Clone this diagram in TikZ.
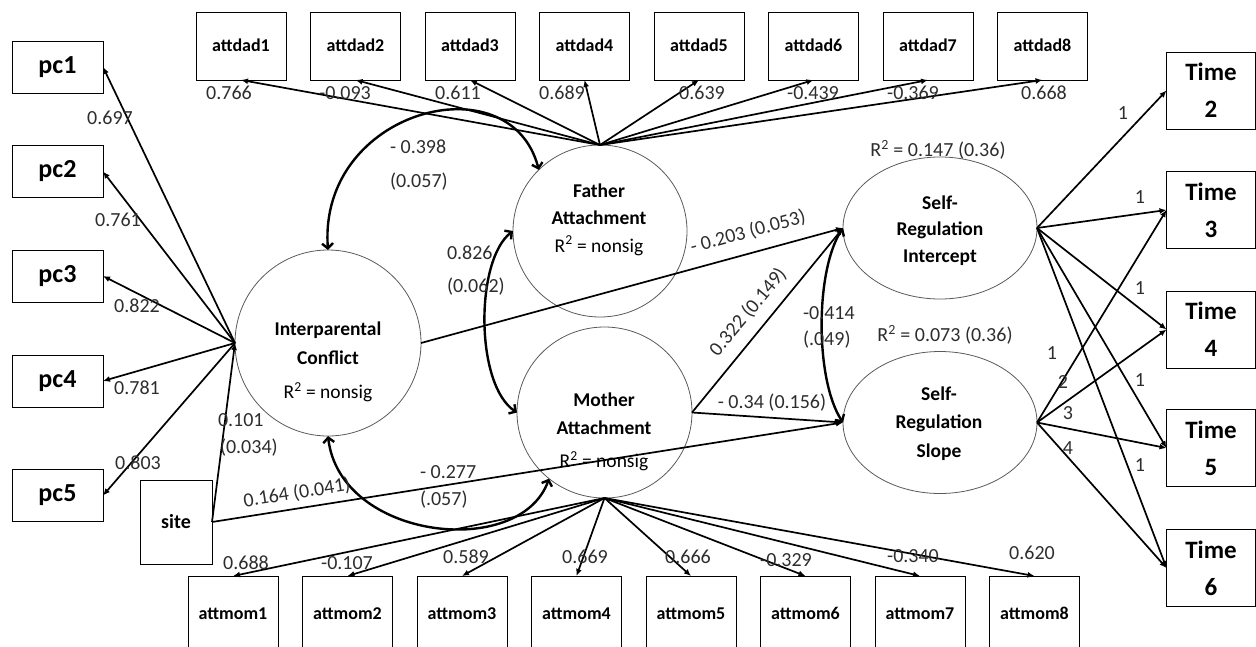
\documentclass[tikz,border=0pt]{standalone}
\usepackage{fontspec}
\setmainfont{Carlito}
\usetikzlibrary{arrows.meta,shapes.geometric}
\definecolor{semInk}{RGB}{0,0,0}
\definecolor{semNum}{RGB}{45,45,45}
\definecolor{semRim}{RGB}{90,90,90}

\begin{document}
\begin{tikzpicture}[x=1pt,y=-1pt,inner sep=0pt,outer sep=0pt,
  obsbox/.style={draw=semInk,line width=0.9pt,minimum width=91pt,minimum height=52pt,font=\bfseries\fontsize{26}{30}\selectfont},
  itembox/.style={draw=semInk,line width=0.9pt,minimum width=90pt,minimum height=68pt,text height=12pt,text depth=1pt,font=\bfseries\fontsize{18}{20}\selectfont},
  timebox/.style={draw=semInk,line width=0.9pt,minimum width=89pt,minimum height=77pt,align=center,font=\bfseries\fontsize{25}{37}\selectfont},
  latent/.style={ellipse,draw=semRim,line width=0.8pt},
  ltext/.style={align=center,text=semInk,font=\fontsize{19.5}{27.5}\selectfont},
  coef/.style={text=semNum,font=\fontsize{20}{24}\selectfont},
  loadarrow/.style={-{Latex[length=7pt,width=6pt]},line width=1.7pt},
  covarrow/.style={{Straight Barb[length=5pt,width=11pt]}-{Straight Barb[length=5pt,width=11pt]},line width=2.4pt},
]
\useasboundingbox (0,0) rectangle (1256,646);

% indicators of interparental conflict
\node[obsbox] (pc1) at (57.5,67) {pc1};
\node[obsbox] (pc2) at (57.5,171.5) {pc2};
\node[obsbox] (pc3) at (57.5,276) {pc3};
\node[obsbox] (pc4) at (57.5,381) {pc4};
\node[obsbox] (pc5) at (57.5,495.5) {pc5};
\node[draw=semInk,line width=0.9pt,minimum width=72pt,minimum height=84pt,font=\bfseries\fontsize{20}{24}\selectfont] (site) at (176,522) {site};

% father items
\node[itembox] (attdad1) at (241,46) {attdad1};
\node[itembox] (attdad2) at (355.5,46) {attdad2};
\node[itembox] (attdad3) at (470,46) {attdad3};
\node[itembox] (attdad4) at (584.5,46) {attdad4};
\node[itembox] (attdad5) at (699,46) {attdad5};
\node[itembox] (attdad6) at (813.5,46) {attdad6};
\node[itembox] (attdad7) at (928,46) {attdad7};
\node[itembox] (attdad8) at (1042.5,46) {attdad8};

% mother items
\node[itembox,minimum height=76pt] (attmom1) at (233,614) {attmom1};
\node[itembox,minimum height=76pt] (attmom2) at (347.5,614) {attmom2};
\node[itembox,minimum height=76pt] (attmom3) at (462,614) {attmom3};
\node[itembox,minimum height=76pt] (attmom4) at (576.5,614) {attmom4};
\node[itembox,minimum height=76pt] (attmom5) at (691,614) {attmom5};
\node[itembox,minimum height=76pt] (attmom6) at (805.5,614) {attmom6};
\node[itembox,minimum height=76pt] (attmom7) at (920,614) {attmom7};
\node[itembox,minimum height=76pt] (attmom8) at (1034.5,614) {attmom8};

% waves
\node[timebox] (time2) at (1211,90.5) {Time\\2};
\node[timebox] (time3) at (1211,210) {Time\\3};
\node[timebox] (time4) at (1211,329.5) {Time\\4};
\node[timebox] (time5) at (1211,448) {Time\\5};
\node[timebox] (time6) at (1211,568) {Time\\6};

% latent variables
\node[latent,minimum width=186pt,minimum height=186pt] (ipc) at (328,343) {};
\node[latent,minimum width=174pt,minimum height=172pt] (fat) at (600,231) {};
\node[latent,minimum width=175pt,minimum height=171pt] (mot) at (604.5,412.5) {};
\node[latent,minimum width=194pt,minimum height=142pt] (sri) at (940,228) {};
\node[latent,minimum width=194pt,minimum height=142pt] (srs) at (940,422.5) {};
\node[ltext] (ipc-t) at (328,362) {\textbf{Interparental}\\[1pt]\textbf{Conflict}\\[7pt]R\textsuperscript{2} = nonsig};
\node[ltext] (fat-t) at (599,219.5) {\textbf{Father}\\\textbf{Attachment}\\R\textsuperscript{2} = nonsig};
\node[ltext] (mot-t) at (604,432) {\textbf{Mother}\\\textbf{Attachment}\\[6pt]R\textsuperscript{2} = nonsig};
\node[ltext] (sri-t) at (940,230.5) {\textbf{Self-}\\[-1pt]\textbf{Regulation}\\[-1pt]\textbf{Intercept}};
\node[ltext] (srs-t) at (939,423.5) {\textbf{Self-}\\[1pt]\textbf{Regulation}\\[1pt]\textbf{Slope}};
\node[coef] (sri-r) at (938,150) {R\textsuperscript{2} = 0.147 (0.36)};
\node[coef] (srs-r) at (945,335) {R\textsuperscript{2} = 0.073 (0.36)};

% loadings
\draw[loadarrow] (ipc.west) -- (pc1.east);
\draw[loadarrow] (ipc.west) -- (pc2.east);
\draw[loadarrow] (ipc.west) -- (pc3.east);
\draw[loadarrow] (ipc.west) -- (pc4.east);
\draw[loadarrow] (ipc.west) -- (pc5.east);
\draw[loadarrow] (fat.north) -- (attdad1.south);
\draw[loadarrow] (fat.north) -- (attdad2.south);
\draw[loadarrow] (fat.north) -- (attdad3.south);
\draw[loadarrow] (fat.north) -- (attdad4.south);
\draw[loadarrow] (fat.north) -- (attdad5.south);
\draw[loadarrow] (fat.north) -- (attdad6.south);
\draw[loadarrow] (fat.north) -- (attdad7.south);
\draw[loadarrow] (fat.north) -- (attdad8.south);
\draw[loadarrow] (mot.south) -- (attmom1.north);
\draw[loadarrow] (mot.south) -- (attmom2.north);
\draw[loadarrow] (mot.south) -- (attmom3.north);
\draw[loadarrow] (mot.south) -- (attmom4.north);
\draw[loadarrow] (mot.south) -- (attmom5.north);
\draw[loadarrow] (mot.south) -- (attmom6.north);
\draw[loadarrow] (mot.south) -- (attmom7.north);
\draw[loadarrow] (mot.south) -- (attmom8.north);
\draw[loadarrow] (sri.east) -- (time2.west);
\draw[loadarrow] (sri.east) -- (time3.west);
\draw[loadarrow] (sri.east) -- (time4.west);
\draw[loadarrow] (sri.east) -- (time5.west);
\draw[loadarrow] (sri.east) -- (time6.west);
\draw[loadarrow] (srs.east) -- (time3.west);
\draw[loadarrow] (srs.east) -- (time4.west);
\draw[loadarrow] (srs.east) -- (time5.west);
\draw[loadarrow] (srs.east) -- (time6.west);

% structural paths
\draw[loadarrow] (site.east) -- (ipc.west);
\draw[loadarrow] (site.east) -- (srs.west);
\draw[loadarrow] (ipc.east) -- (sri.west);
\draw[loadarrow] (mot.east) -- (sri.west);
\draw[loadarrow] (mot.east) -- (srs.west);
\draw[covarrow] (ipc.north) .. controls (318,110) and (510,60) .. (fat.135);
\draw[covarrow] (ipc.south) .. controls (340,540) and (520,560) .. (mot.230);
\draw[covarrow] (fat.west) .. controls (475,260) and (475,385) .. (mot.west);
\draw[covarrow] (sri.west) .. controls (815,270) and (815,380) .. (srs.west);

% coefficients
\node[coef] (c-pc1) at (110,118) {0.697};
\node[coef] (c-pc2) at (118,220) {0.761};
\node[coef] (c-pc3) at (137,306) {0.822};
\node[coef] (c-pc4) at (137,388) {0.781};
\node[coef] (c-pc5) at (138,463) {0.803};
\node[coef] (c-d1) at (229,93) {0.766};
\node[coef] (c-d2) at (345,93) {-0.093};
\node[coef] (c-d3) at (458,93) {0.611};
\node[coef] (c-d4) at (562,93) {0.689};
\node[coef] (c-d5) at (702,93) {0.639};
\node[coef] (c-d6) at (813,93) {-0.439};
\node[coef] (c-d7) at (913,93) {-0.369};
\node[coef] (c-d8) at (1044,93) {0.668};
\node[coef] (c-m1) at (246,563) {0.688};
\node[coef] (c-m2) at (347,563) {-0.107};
\node[coef] (c-m3) at (466,557) {0.589};
\node[coef] (c-m4) at (585,557) {0.669};
\node[coef] (c-m5) at (688,557) {0.666};
\node[coef] (c-m6) at (786,560) {-0.329};
\node[coef] (c-m7) at (913,556) {-0.340};
\node[coef] (c-m8) at (1032,553) {0.620};
\node[coef,anchor=west] (c-site1) at (218,420) {0.101};
\node[coef,anchor=west] (c-site1se) at (220,448) {(0.034)};
\node[coef,rotate=9] (c-site2) at (297,493) {0.164 (0.041)};
\node[coef,anchor=west] (c-ipcfat) at (390,147) {- 0.398};
\node[coef,anchor=west] (c-ipcfatse) at (390,182) {(0.057)};
\node[coef,anchor=west] (c-ipcmot) at (420,472) {- 0.277};
\node[coef,anchor=west] (c-ipcmotse) at (420,500) {(.057)};
\node[coef,anchor=west] (c-fatmot) at (447,253) {0.826};
\node[coef,anchor=west] (c-fatmotse) at (447,287) {(0.062)};
\node[coef,rotate=15] (c-ipcsri) at (748,232) {- 0.203 (0.053)};
\node[coef,rotate=50] (c-motsri) at (748,312) {0.322 (0.149)};
\node[coef] (c-motsrs) at (772,403) {- 0.34 (0.156)};
\node[coef,anchor=west] (c-srisrs) at (803,313) {-0.414};
\node[coef,anchor=west] (c-srisrsse) at (803,340) {(.049)};
\node[coef] (c-i2) at (1123,113) {1};
\node[coef] (c-i3) at (1140,197) {1};
\node[coef] (c-i4) at (1140,288) {1};
\node[coef] (c-i5) at (1140,380) {1};
\node[coef] (c-i6) at (1140,465) {1};
\node[coef] (c-s3) at (1052,353) {1};
\node[coef] (c-s4) at (1063,382) {2};
\node[coef] (c-s5) at (1068,413) {3};
\node[coef] (c-s6) at (1068,448) {4};
\end{tikzpicture}
\end{document}
